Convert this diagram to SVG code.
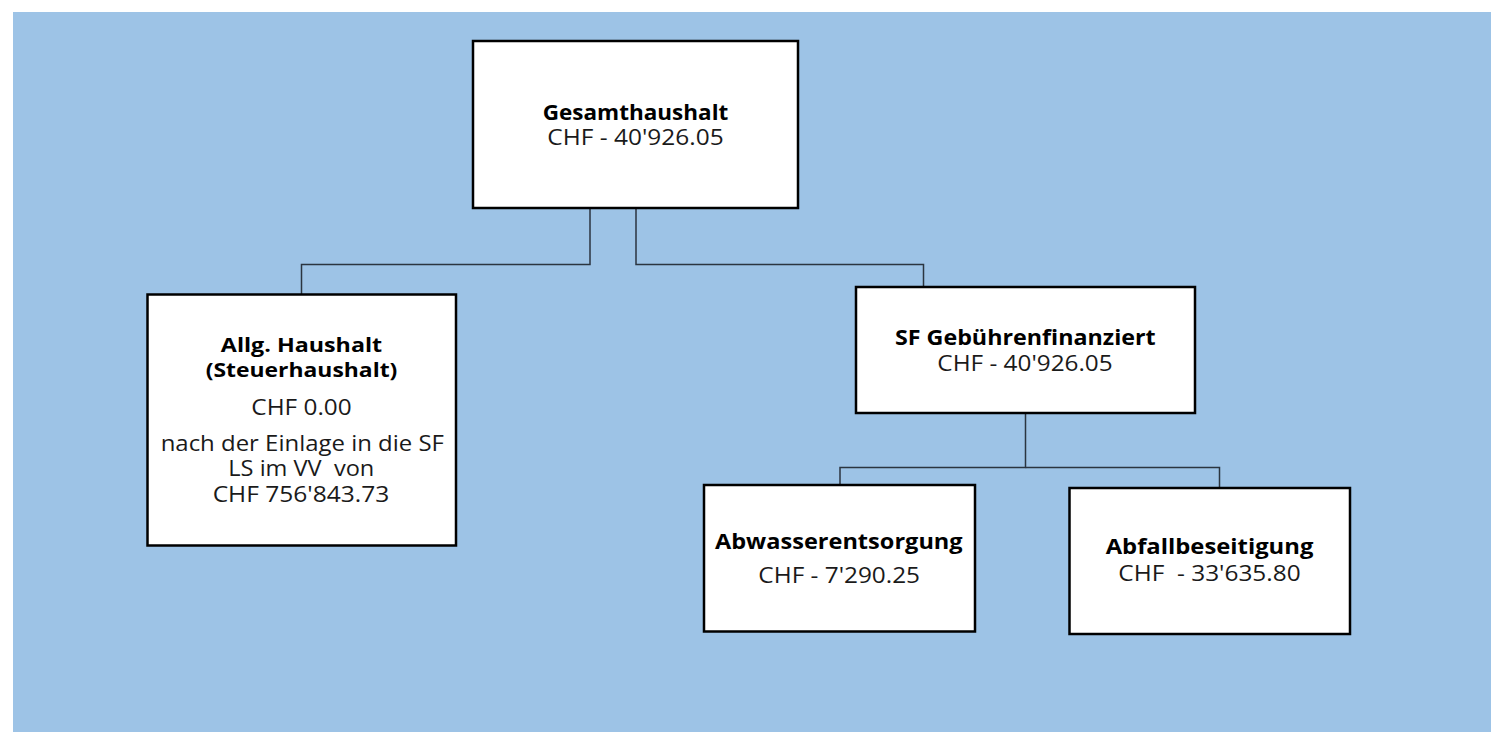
<svg xmlns="http://www.w3.org/2000/svg" width="1491" height="732" viewBox="0 0 1491 732">
<style>
.box{fill:#ffffff;stroke:#000000;stroke-width:2.5}
.con{fill:none;stroke:#2b3540;stroke-width:1.5}
text{font-family:"Open Sans",Lato,"Liberation Sans",sans-serif;font-size:21px;text-anchor:middle;fill:#1a1a1a}
.b{font-weight:bold;fill:#000000}
.s{font-size:20px}
</style>
<rect x="0" y="0" width="1491" height="732" fill="#ffffff"/>
<rect x="13" y="12" width="1478" height="720" fill="#9dc3e6"/>
<g id="connectors">
<polyline class="con" points="590,208 590,264.5 301.5,264.5 301.5,294"/>
<polyline class="con" points="636,208 636,264.5 923.5,264.5 923.5,287"/>
<polyline class="con" points="1025.5,413 1025.5,467.5 840,467.5 840,485"/>
<polyline class="con" points="1025.5,467.5 1219.5,467.5 1219.5,488"/>
</g>
<g id="gesamthaushalt">
<rect class="box" x="473" y="41" width="325" height="167"/>
<text class="b" x="635.5" y="119.5" textLength="185.6" lengthAdjust="spacingAndGlyphs">Gesamthaushalt</text>
<text x="635.5" y="145" textLength="176.3" lengthAdjust="spacingAndGlyphs">CHF - 40'926.05</text>
</g>
<g id="allg-haushalt">
<rect class="box" x="147.5" y="294.5" width="308.5" height="251"/>
<text class="b s" x="301.5" y="352" textLength="161.3" lengthAdjust="spacingAndGlyphs">Allg. Haushalt</text>
<text class="b s" x="301.5" y="377" textLength="191.7" lengthAdjust="spacingAndGlyphs">(Steuerhaushalt)</text>
<text x="301.5" y="415" textLength="100.3" lengthAdjust="spacingAndGlyphs">CHF 0.00</text>
<text x="302.3" y="450.5" textLength="283.3" lengthAdjust="spacingAndGlyphs">nach der Einlage in die SF</text>
<text x="301.3" y="476" xml:space="preserve" textLength="146" lengthAdjust="spacingAndGlyphs">LS im VV  von</text>
<text x="301" y="502" textLength="176.7" lengthAdjust="spacingAndGlyphs">CHF 756'843.73</text>
</g>
<g id="sf-gebuehrenfinanziert">
<rect class="box" x="856" y="287" width="339" height="126"/>
<text class="b" x="1025.3" y="345" textLength="260.7" lengthAdjust="spacingAndGlyphs">SF Gebührenfinanziert</text>
<text x="1025" y="370.5" textLength="175.3" lengthAdjust="spacingAndGlyphs">CHF - 40'926.05</text>
</g>
<g id="abwasserentsorgung">
<rect class="box" x="704" y="485" width="271" height="146.5"/>
<text class="b" x="838.8" y="549" textLength="247.7" lengthAdjust="spacingAndGlyphs">Abwasserentsorgung</text>
<text x="839.2" y="583" textLength="161.7" lengthAdjust="spacingAndGlyphs">CHF - 7'290.25</text>
</g>
<g id="abfallbeseitigung">
<rect class="box" x="1069.5" y="488" width="280.5" height="146"/>
<text class="b" x="1209.5" y="554" textLength="207.7" lengthAdjust="spacingAndGlyphs">Abfallbeseitigung</text>
<text x="1209.5" y="581" xml:space="preserve" textLength="182.3" lengthAdjust="spacingAndGlyphs">CHF  - 33'635.80</text>
</g>
</svg>
